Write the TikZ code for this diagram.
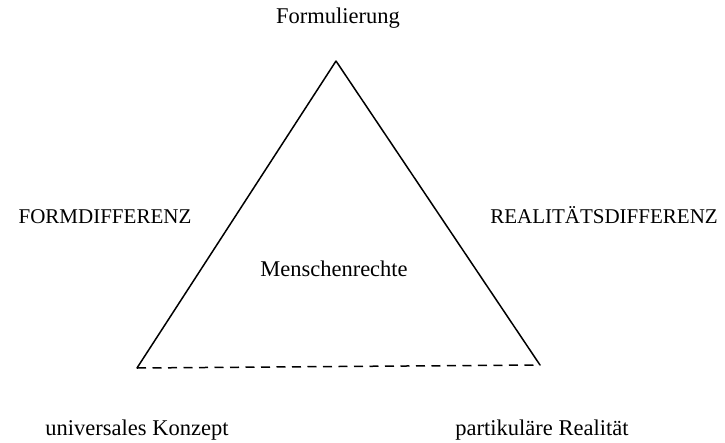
\documentclass[tikz,border=0pt]{standalone}
\usepackage{fontspec}
\setmainfont{Liberation Serif}
\begin{document}
\begin{tikzpicture}[x=1pt,y=-1pt,
  lbl/.style={inner sep=0pt,anchor=base,font=\fontsize{22.5}{27}\selectfont},
  capslbl/.style={inner sep=0pt,anchor=base,font=\fontsize{21}{25}\selectfont},
  side/.style={line width=1.5pt,line cap=round,line join=round},
  base/.style={line width=1.5pt,dash pattern=on 9pt off 6.5pt}]
\path[use as bounding box,fill=white] (0,0) rectangle (725,442);
\coordinate (top) at (336,61);
\coordinate (bl) at (137,368);
\coordinate (br) at (540,365);
\draw[side] (bl) -- (top) -- (br);
\draw[base] (bl) -- (br);
\node[lbl] (form) at (338,23) {Formulierung};
\node[capslbl] (fd) at (105,223) {FORMDIFFERENZ};
\node[capslbl] (rd) at (604,223) {REALITÄTSDIFFERENZ};
\node[lbl] (mr) at (334,276) {Menschenrechte};
\node[lbl] (uk) at (137,435) {universales Konzept};
\node[lbl] (pr) at (542,435) {partikuläre Realität};
\end{tikzpicture}
\end{document}
